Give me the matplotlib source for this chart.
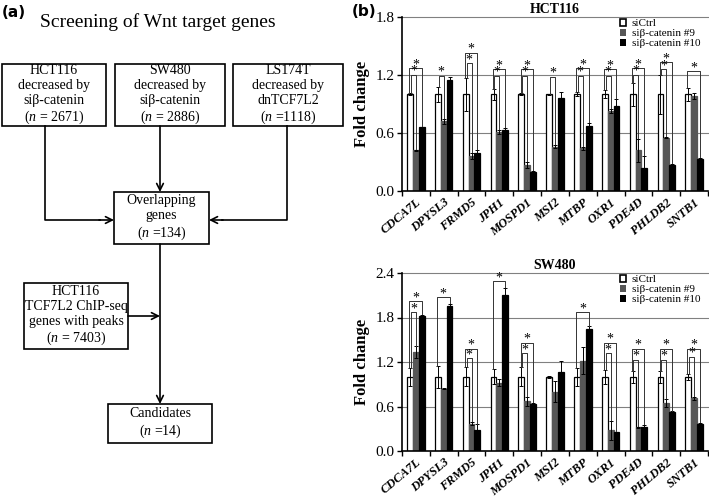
import numpy as np
import matplotlib.pyplot as plt
from matplotlib.patches import Rectangle, Patch

plt.rcParams['font.family'] = 'Liberation Serif'
plt.rcParams['mathtext.fontset'] = 'custom'
plt.rcParams['mathtext.rm'] = 'Liberation Serif'
plt.rcParams['mathtext.it'] = 'Liberation Serif:italic'
plt.rcParams['mathtext.bf'] = 'Liberation Serif:bold'

genes = ["CDCA7L", "DPYSL3", "FRMD5", "JPH1", "MOSPD1", "MSI2",
         "MTBP", "OXR1", "PDE4D", "PHLDB2", "SNTB1"]
series = ["siCtrl", "siβ-catenin #9", "siβ-catenin #10"]

# HCT116 fold change
hct_ctrl = [1.0, 1.0, 1.0, 1.0, 1.0, 1.0, 1.0, 1.0, 1.0, 1.0, 1.0]
hct_ctrl_err = [0.01, 0.08, 0.17, 0.06, 0.01, 0.005, 0.02, 0.04, 0.12, 0.20, 0.07]
hct_si9 = [0.42, 0.72, 0.36, 0.61, 0.27, 0.46, 0.44, 0.83, 0.42, 0.55, 0.98]
hct_si9_err = [0.005, 0.03, 0.03, 0.02, 0.03, 0.02, 0.02, 0.02, 0.12, 0.005, 0.03]
hct_si10 = [0.66, 1.15, 0.39, 0.63, 0.20, 0.96, 0.67, 0.88, 0.24, 0.27, 0.33]
hct_si10_err = [0.005, 0.03, 0.03, 0.02, 0.005, 0.06, 0.03, 0.07, 0.12, 0.005, 0.01]
# (gene index, compared series, bracket height)
hct_sig = [(0, 2, 1.27), (0, 1, 1.20), (1, 1, 1.19), (2, 2, 1.43), (2, 1, 1.32),
           (3, 2, 1.26), (3, 1, 1.19), (4, 2, 1.26), (4, 1, 1.19), (5, 1, 1.18),
           (6, 2, 1.27), (6, 1, 1.19), (7, 2, 1.26), (7, 1, 1.19), (8, 2, 1.27),
           (8, 1, 1.20), (9, 2, 1.33), (9, 1, 1.26), (10, 2, 1.24)]

# SW480 fold change
sw_ctrl = [1.0, 1.0, 1.0, 1.0, 1.0, 1.0, 1.0, 1.0, 1.0, 1.0, 1.0]
sw_ctrl_err = [0.12, 0.15, 0.13, 0.10, 0.13, 0.01, 0.12, 0.09, 0.08, 0.08, 0.04]
sw_si9 = [1.33, 0.84, 0.37, 0.92, 0.67, 0.80, 1.22, 0.28, 0.32, 0.65, 0.71]
sw_si9_err = [0.08, 0.01, 0.02, 0.05, 0.06, 0.14, 0.18, 0.13, 0.01, 0.05, 0.02]
sw_si10 = [1.82, 1.95, 0.28, 2.10, 0.63, 1.06, 1.65, 0.25, 0.33, 0.53, 0.36]
sw_si10_err = [0.02, 0.03, 0.08, 0.10, 0.02, 0.15, 0.03, 0.01, 0.02, 0.005, 0.02]
sw_sig = [(0, 2, 2.02), (0, 1, 1.87), (1, 2, 2.07), (2, 2, 1.38), (2, 1, 1.25),
          (3, 2, 2.29), (4, 2, 1.46), (4, 1, 1.32), (6, 2, 1.87), (7, 2, 1.46),
          (7, 1, 1.32), (8, 2, 1.38), (8, 1, 1.23), (9, 2, 1.38), (9, 1, 1.23),
          (10, 2, 1.38), (10, 1, 1.27)]

fig = plt.figure(figsize=(7.09, 4.99), dpi=100)

# ---------------- (a) flowchart ----------------
fa = fig.add_axes([0, 0, 360 / 709, 1])
fa.set_xlim(0, 360)
fa.set_ylim(499, 0)
fa.axis('off')

fa.text(2, 12, "(a)", family='DejaVu Sans', fontweight='bold', fontsize=11,
        ha='left', va='center')
fa.text(158, 22, "Screening of Wnt target genes", fontsize=14, ha='center', va='center')

boxes = [
    (2, 64, 104, 62, "HCT116\ndecreased by\nsiβ-catenin\n($n$ = 2671)"),
    (115, 64, 110, 62, "SW480\ndecreased by\nsiβ-catenin\n($n$ = 2886)"),
    (233, 64, 110, 62, "LS174T\ndecreased by\ndnTCF7L2\n($n$ =1118)"),
    (114, 192, 95, 52, "Overlapping\ngenes\n($n$ =134)"),
    (24, 283, 104, 66, "HCT116\nTCF7L2 ChIP-seq\ngenes with peaks\n($n$ = 7403)"),
    (108, 404, 104, 39, "Candidates\n($n$ =14)"),
]
for bx, by, bw, bh, txt in boxes:
    fa.add_patch(Rectangle((bx, by), bw, bh, fill=False, edgecolor='black', lw=1.2))
    fa.text(bx + bw / 2, by + bh / 2, txt, ha='center', va='center',
            fontsize=10, linespacing=1.2)

lkw = dict(color='black', lw=1.2)
akw = dict(arrowstyle='->', color='black', lw=1.2, shrinkA=0, shrinkB=0,
           mutation_scale=12)
fa.plot([45, 45, 100], [126, 220, 220], **lkw)
fa.annotate("", xy=(114, 220), xytext=(99, 220), arrowprops=akw)
fa.plot([287, 287, 222], [126, 220, 220], **lkw)
fa.annotate("", xy=(209, 220), xytext=(223, 220), arrowprops=akw)
fa.annotate("", xy=(160, 192), xytext=(160, 126), arrowprops=akw)
fa.annotate("", xy=(160, 404), xytext=(160, 244), arrowprops=akw)
fa.annotate("", xy=(160, 316), xytext=(128, 316), arrowprops=akw)

fig.text(352 / 709, 1 - 12 / 499, "(b)", family='DejaVu Sans', fontweight='bold',
         fontsize=11, ha='left', va='center')

# ---------------- (b) bar charts ----------------
colors = ['white', '#575757', 'black']


def bar_panel(ax, title, vals, errs, sig, ymax, yticks):
    x = np.arange(len(genes))
    w = 0.21
    for i in range(3):
        ax.bar(x + (i - 1) * w, vals[i], w, yerr=errs[i], color=colors[i],
               edgecolor='black' if i == 0 else colors[i], linewidth=0.9,
               error_kw=dict(elinewidth=0.7, capsize=1.5, capthick=0.7, ecolor='black'),
               label=series[i], zorder=2)
    for g, b, h in sig:
        xl = x[g] - w + (-0.03 if b == 2 else 0.03)
        xr = x[g] + (b - 1) * w
        yl = vals[0][g] + errs[0][g]
        yr = vals[b][g] + errs[b][g] + 0.01
        ax.plot([xl, xl, xr, xr], [yl, h, h, yr], color='#333333', lw=0.7, zorder=3)
        ax.annotate("*", ((xl + xr) / 2, h), xytext=(0, 0), textcoords='offset points',
                    ha='center', va='baseline', fontsize=10)

    for yv in yticks[1:]:
        ax.axhline(yv, color='#808080', lw=0.8, zorder=0, clip_on=False)
    ax.set_ylim(0, ymax)
    ax.set_xlim(-0.5, len(genes) - 0.5)
    ax.set_yticks(yticks)
    ax.set_yticklabels([f"{v:.1f}" for v in yticks], fontsize=11)
    ax.set_xticks(x)
    ax.set_xticklabels(genes, rotation=40, ha='right', rotation_mode='anchor',
                       fontweight='bold', fontstyle='italic', fontsize=9)
    ax.set_xticks(np.arange(-0.5, len(genes), 1), minor=True)
    ax.tick_params(axis='x', which='major', length=0, pad=4)
    ax.tick_params(axis='x', which='minor', length=3.5, width=1, direction='out')
    ax.tick_params(axis='y', length=3.5, width=1, direction='out', pad=2)
    for s in ['top', 'right']:
        ax.spines[s].set_visible(False)
    ax.spines['left'].set_linewidth(1.2)
    ax.spines['bottom'].set_linewidth(1.2)
    ax.set_ylabel("Fold change", fontweight='bold', fontsize=12, labelpad=4)
    ax.set_title(title, fontweight='bold', fontsize=10, pad=3)
    handles = [Patch(facecolor=colors[i], edgecolor='black', lw=1.2 if i == 0 else 0)
               for i in range(3)]
    ax.legend(handles, series, loc='upper right', bbox_to_anchor=(1.0, 1.035),
              frameon=False, fontsize=8, handlelength=0.6, handleheight=0.6,
              handletextpad=0.5, labelspacing=0.05, borderpad=0.2)


ax1 = fig.add_axes([402 / 709, 1 - 191 / 499, 306 / 709, 174 / 499])
bar_panel(ax1, "HCT116", [hct_ctrl, hct_si9, hct_si10],
          [hct_ctrl_err, hct_si9_err, hct_si10_err], hct_sig, 1.8,
          [0.0, 0.6, 1.2, 1.8])

ax2 = fig.add_axes([402 / 709, 1 - 451 / 499, 306 / 709, 178 / 499])
bar_panel(ax2, "SW480", [sw_ctrl, sw_si9, sw_si10],
          [sw_ctrl_err, sw_si9_err, sw_si10_err], sw_sig, 2.4,
          [0.0, 0.6, 1.2, 1.8, 2.4])

fig.savefig("out.png", dpi=100)
